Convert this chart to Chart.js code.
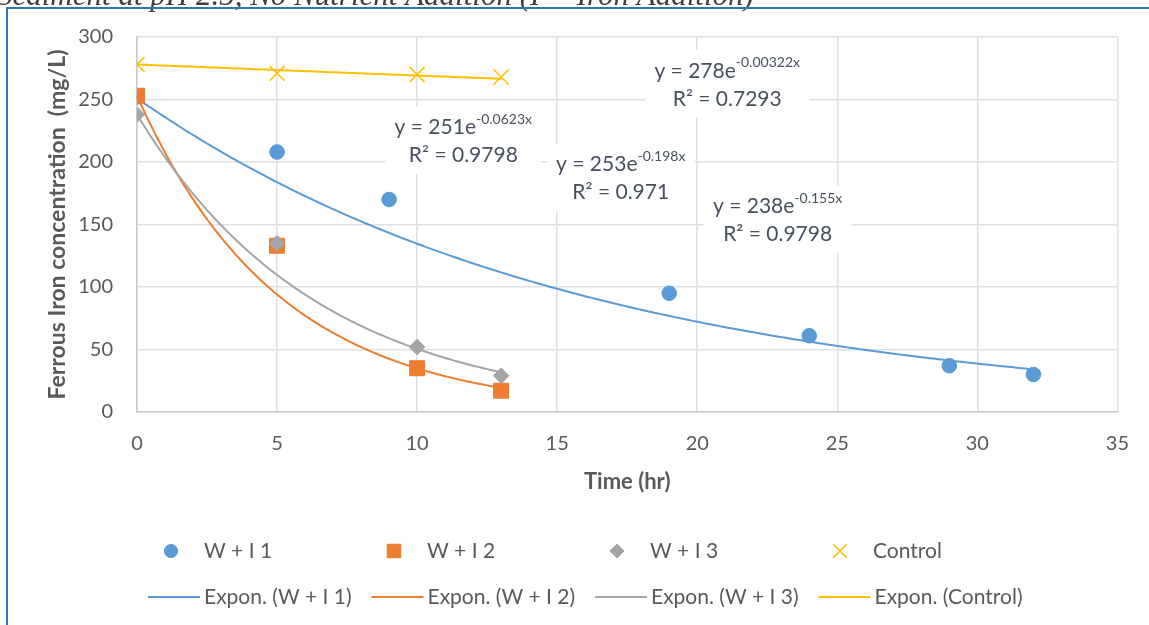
<!DOCTYPE html>
<html>
<head>
<meta charset="utf-8">
<script src="https://cdn.jsdelivr.net/npm/chart.js@4.4.0/dist/chart.umd.min.js"></script>
<style>
  html, body { margin: 0; padding: 0; background: #fff; }
  #wrap { width: 1149px; height: 625px; }
</style>
</head>
<body>
<div id="wrap"><canvas id="chart" width="1149" height="625"></canvas></div>
<script>
// measured points, time in hr and Fe2+ in mg/L
const seriesNames = ['W + I 1', 'W + I 2', 'W + I 3', 'Control'];
const timeW1 = [0, 5, 9, 19, 24, 29, 32];
const ironW1 = [252, 208, 170, 95, 61, 37, 30];
const timeW2 = [0, 5, 10, 13];
const ironW2 = [253, 133, 35, 17];
const timeW3 = [0, 5, 10, 13];
const ironW3 = [238, 135, 52, 29];
const timeCtl = [0, 5, 10, 13];
const ironCtl = [278, 271, 270, 268];

// exponential trendlines y = a*e^(k*x) as printed on the chart
const fitA = [251, 253, 238, 278];
const fitK = ['-0.0623', '-0.198', '-0.155', '-0.00322'];
const fitR2 = ['0.9798', '0.971', '0.9798', '0.7293'];
const fitXmax = [32, 13, 13, 13];

const xMin = 0, xMax = 35, xStep = 5;
const yMin = 0, yMax = 300, yStep = 50;

const colors = ['#5b9bd5', '#ed7d31', '#a5a5a5', '#ffc000'];
const pointStyles = ['circle', 'rect', 'rectRot', 'crossRot'];
const pointRadii = [7.3, 10.6, 7.8, 10.6];

const FONT = 'Lato';
const textGrey = '#595959';
const eqColor = '#47505e';

// equation label centres, in data units
const eqPos = [[11.65, 217.5], [17.27, 187.5], [22.87, 154.4], [21.07, 262.6]];

const toPts = (xs, ys) => xs.map((x, i) => ({ x: x, y: ys[i] }));
const allPts = [toPts(timeW1, ironW1), toPts(timeW2, ironW2), toPts(timeW3, ironW3), toPts(timeCtl, ironCtl)];

const datasets = allPts.map((pts, i) => ({
    label: seriesNames[i],
    data: pts,
    showLine: false,
    pointStyle: pointStyles[i],
    pointRadius: pointRadii[i],
    pointHoverRadius: pointRadii[i],
    pointBackgroundColor: colors[i],
    pointBorderColor: colors[i],
    pointBorderWidth: i == 3 ? 1.6 : 1,
    order: 4 - i
}));

const frame = {
    id: 'frame',
    beforeDraw(chart) {
        const ctx = chart.ctx;
        ctx.save();
        ctx.fillStyle = '#fff';
        ctx.fillRect(0, 0, chart.width, chart.height);
        // cut-off caption above the frame
        ctx.fillStyle = '#404040';
        ctx.font = 'italic 31px "Liberation Serif"';
        ctx.textBaseline = 'alphabetic';
        ctx.fillText('Sediment at pH 2.5, No Nutrient Addition (I = Iron Addition)', -3, 5);
        ctx.strokeStyle = '#2e75b6';
        ctx.lineWidth = 2;
        ctx.beginPath();
        ctx.moveTo(7, chart.height);
        ctx.lineTo(7, 8);
        ctx.lineTo(chart.width, 8);
        ctx.stroke();
        ctx.restore();
    }
};

const trendlines = {
    id: 'trendlines',
    beforeDatasetsDraw(chart) {
        const { ctx, scales: { x, y } } = chart;
        ctx.save();
        ctx.lineWidth = 2;
        fitA.forEach((a, i) => {
            const k = parseFloat(fitK[i]);
            ctx.strokeStyle = colors[i];
            ctx.beginPath();
            for (let t = 0; t <= fitXmax[i] + 1e-9; t += 0.1) {
                const px = x.getPixelForValue(t), py = y.getPixelForValue(a * Math.exp(k * t));
                if (t == 0) ctx.moveTo(px, py); else ctx.lineTo(px, py);
            }
            ctx.stroke();
        });
        ctx.restore();
    }
};

const equations = {
    id: 'equations',
    afterDatasetsDraw(chart) {
        const { ctx, scales: { x, y } } = chart;
        ctx.save();
        const mainFont = '21px ' + FONT, supFont = '14px ' + FONT;
        fitA.forEach((a, i) => {
            const cx = x.getPixelForValue(eqPos[i][0]);
            const cy = y.getPixelForValue(eqPos[i][1]);
            const main = 'y = ' + a + 'e';
            const sup = fitK[i] + 'x';
            const line2 = 'R\u00b2 = ' + fitR2[i];
            ctx.font = mainFont;
            const wMain = ctx.measureText(main).width;
            const w2 = ctx.measureText(line2).width;
            ctx.font = supFont;
            const wSup = ctx.measureText(sup).width;
            const w1 = wMain + wSup;
            const boxW = Math.max(w1, w2) + 18, boxH = 67;
            ctx.fillStyle = '#fff';
            ctx.fillRect(cx - boxW / 2, cy - boxH / 2, boxW, boxH);
            ctx.fillStyle = eqColor;
            ctx.textBaseline = 'middle';
            ctx.textAlign = 'left';
            const x1 = cx - w1 / 2;
            const y1 = cy - 13, y2 = cy + 15;
            ctx.font = mainFont;
            ctx.fillText(main, x1, y1);
            ctx.font = supFont;
            ctx.fillText(sup, x1 + wMain, y1 - 8);
            ctx.font = mainFont;
            ctx.textAlign = 'center';
            ctx.fillText(line2, cx, y2);
        });
        ctx.restore();
    }
};

const legendBox = {
    id: 'legendBox',
    afterDraw(chart) {
        const ctx = chart.ctx;
        ctx.save();
        ctx.font = '21px ' + FONT;
        ctx.textBaseline = 'middle';
        ctx.textAlign = 'left';
        seriesNames.forEach((name, i) => {
            const mx = 171 + i * 223;
            ctx.fillStyle = colors[i];
            ctx.strokeStyle = colors[i];
            ctx.lineWidth = i == 3 ? 1.6 : 1;
            Chart.helpers.drawPoint(ctx, {
                pointStyle: pointStyles[i],
                radius: pointRadii[i] * 0.9,
                borderWidth: ctx.lineWidth
            }, mx, 551);
            ctx.fillStyle = textGrey;
            ctx.fillText(name, mx + 33, 551);

            const lx = 148 + i * 223.5;
            ctx.strokeStyle = colors[i];
            ctx.lineWidth = 2;
            ctx.beginPath();
            ctx.moveTo(lx, 597);
            ctx.lineTo(lx + 52, 597);
            ctx.stroke();
            ctx.fillText('Expon. (' + name + ')', lx + 56, 597);
        });
        ctx.restore();
    }
};

new Chart(document.getElementById('chart'), {
    type: 'scatter',
    data: { datasets: datasets },
    options: {
        responsive: false,
        animation: false,
        devicePixelRatio: 1,
        layout: { padding: { left: 0, top: 37, right: 24, bottom: 123 } },
        plugins: { legend: { display: false }, tooltip: { enabled: false } },
        scales: {
            x: {
                type: 'linear', min: xMin, max: xMax,
                ticks: { stepSize: xStep, padding: 20, color: textGrey, font: { family: FONT, size: 20 } },
                grid: { color: '#dde1e6', lineWidth: 1.5, drawTicks: false },
                border: { color: '#c6cbd2', width: 1.5 },
                title: { display: true, text: 'Time (hr)', color: textGrey, font: { family: FONT, size: 22, weight: 'bold' }, padding: { top: 0, bottom: 7 } },
                afterFit(s) { s.height = 90; }
            },
            y: {
                type: 'linear', min: yMin, max: yMax,
                ticks: { stepSize: yStep, padding: 24, color: textGrey, font: { family: FONT, size: 20 } },
                grid: { color: '#dde1e6', lineWidth: 1.5, drawTicks: false },
                border: { color: '#c6cbd2', width: 1.5 },
                title: { display: true, text: 'Ferrous Iron concentration  (mg/L)', color: textGrey, font: { family: FONT, size: 23, weight: 'bold' }, padding: { top: 44, bottom: 0 } },
                afterFit(s) { s.width = 137; }
            }
        }
    },
    plugins: [frame, trendlines, equations, legendBox]
});
</script>
</body>
</html>
